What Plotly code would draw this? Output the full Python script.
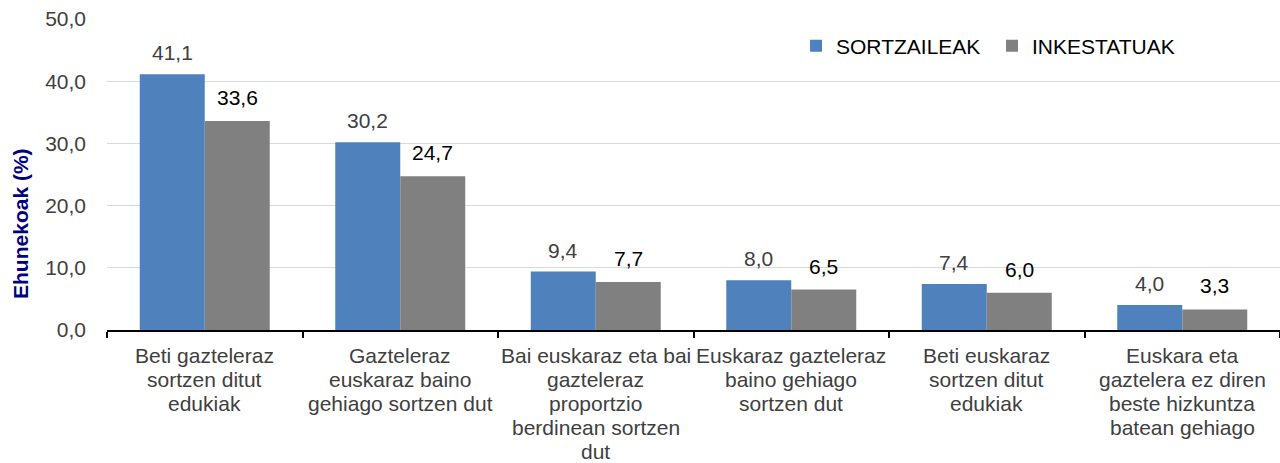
import plotly.graph_objects as go

categories = [
    "Beti gazteleraz<br>sortzen ditut<br>edukiak",
    "Gazteleraz<br>euskaraz baino<br>gehiago sortzen dut",
    "Bai euskaraz eta bai<br>gazteleraz<br>proportzio<br>berdinean sortzen<br>dut",
    "Euskaraz gazteleraz<br>baino gehiago<br>sortzen dut",
    "Beti euskaraz<br>sortzen ditut<br>edukiak",
    "Euskara eta<br>gaztelera ez diren<br>beste hizkuntza<br>batean gehiago",
]
series_names = ["SORTZAILEAK", "INKESTATUAK"]
sortzaileak = [41.1, 30.2, 9.4, 8.0, 7.4, 4.0]
inkestatuak = [33.6, 24.7, 7.7, 6.5, 6.0, 3.3]
y_ticks = [0, 10, 20, 30, 40, 50]

FONT = "Liberation Sans, Arial, sans-serif"
BLUE = "#4F81BD"
GRAY = "#808080"
BARGAP = 0.335

idx = list(range(len(categories)))

fig = go.Figure()
fig.add_trace(go.Bar(
    name=series_names[0], x=idx, y=sortzaileak,
    marker=dict(color=BLUE, line=dict(width=0)),
))
fig.add_trace(go.Bar(
    name=series_names[1], x=idx, y=inkestatuak,
    marker=dict(color=GRAY, line=dict(width=0)),
))

def fmt(v):
    return f"{v:.1f}".replace(".", ",")

annotations = []
off = (1 - BARGAP) / 4
for i, (a, b) in enumerate(zip(sortzaileak, inkestatuak)):
    annotations.append(dict(x=i - off, y=a, xref="x", yref="y", text=fmt(a),
                            showarrow=False, yanchor="bottom", xanchor="center", yshift=8,
                            font=dict(size=21, color="#404040", family=FONT)))
    annotations.append(dict(x=i + off, y=b, xref="x", yref="y", text=fmt(b),
                            showarrow=False, yanchor="bottom", xanchor="center", yshift=10,
                            font=dict(size=21, color="#000000", family=FONT)))

# category labels, one annotation per line for tighter line spacing
for i, cat in enumerate(categories):
    for j, line in enumerate(cat.split("<br>")):
        annotations.append(dict(x=i, y=0, xref="x", yref="paper", text=line,
                                showarrow=False, yanchor="top", xanchor="center",
                                yshift=-12 - 24 * j,
                                font=dict(size=21, color="#404040", family=FONT)))

# y axis title
annotations.append(dict(x=-0.0733, y=0.341, xref="paper", yref="paper",
                        text="<b>Ehunekoak (%)</b>", textangle=-90, showarrow=False,
                        xanchor="center", yanchor="middle",
                        font=dict(size=21, color="#000080", family=FONT)))

fig.update_layout(
    width=1280, height=463,
    barmode="group", bargap=BARGAP, bargroupgap=0,
    separators=", ",
    plot_bgcolor="white", paper_bgcolor="white",
    margin=dict(l=107, r=0, t=19, b=133, autoexpand=False),
    font=dict(family=FONT, size=21, color="#000000"),
    showlegend=True,
    legend=dict(
        orientation="h", x=0.5874, y=0.913, xanchor="left", yanchor="middle",
        font=dict(size=21, color="#000000", family=FONT),
        itemwidth=30, entrywidth=151, traceorder="normal", bgcolor="rgba(0,0,0,0)",
    ),
    annotations=annotations,
)
fig.update_yaxes(
    range=[0, 50], tickvals=y_ticks, tickformat=".1f",
    showgrid=True, gridcolor="#D9D9D9", gridwidth=1,
    zeroline=False, showline=False,
    tickfont=dict(size=21, color="#404040", family=FONT),
    ticks="", ticklabelstandoff=20, automargin=False,
)
fig.update_xaxes(
    type="linear", range=[-0.5, len(categories) - 0.5],
    showline=True, linecolor="#000000", linewidth=2,
    tickmode="array", tickvals=[i - 0.5 for i in range(len(categories) + 1)],
    ticks="outside", ticklen=6, tickcolor="#000000", tickwidth=2,
    showticklabels=False, showgrid=False, zeroline=False, automargin=False,
)

fig.write_html(
    "out.html",
    config={"displayModeBar": False},
    post_script="document.body.style.margin='0';document.body.style.padding='0';document.body.style.overflow='hidden';",
)
